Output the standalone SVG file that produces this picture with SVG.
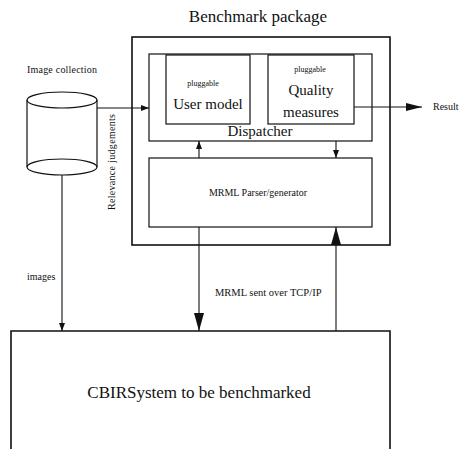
<svg xmlns="http://www.w3.org/2000/svg" width="460" height="449" viewBox="0 0 460 449">
<style>
.box{fill:none;stroke:#111;stroke-width:1.2}
.thick{fill:none;stroke:#111;stroke-width:1.6}
.ln{fill:none;stroke:#111;stroke-width:1.1}
text{font-family:"Liberation Serif","Times New Roman",serif;fill:#111}
.big{font-size:17px}
.mid{font-size:15px}
.sm{font-size:10px}
.xs{font-size:8px}
</style>
<defs>
<marker id="sa" markerUnits="userSpaceOnUse" markerWidth="8" markerHeight="6" refX="8" refY="3" orient="auto"><path d="M0,0 L8,3 L0,6 Z" fill="#111"/></marker>
<marker id="ba" markerUnits="userSpaceOnUse" markerWidth="18" markerHeight="10" refX="18" refY="5" orient="auto"><path d="M0,0 L18,5 L0,10 Z" fill="#111"/></marker>
<marker id="ra" markerUnits="userSpaceOnUse" markerWidth="16" markerHeight="8" refX="16" refY="4" orient="auto"><path d="M0,0 L16,4 L0,8 Z" fill="#111"/></marker>
</defs>
<text class="big" x="258" y="22" text-anchor="middle">Benchmark package</text>
<g id="package"><rect class="thick" x="132" y="37" width="258" height="208"/></g>
<g id="dispatcher"><rect class="box" x="149" y="54" width="223" height="87"/><text class="mid" x="260" y="136" text-anchor="middle">Dispatcher</text></g>
<g id="usermodel"><rect class="box" x="166" y="55" width="84" height="69"/><text class="xs" x="203" y="86" text-anchor="middle">pluggable</text><text class="mid" x="208" y="109" text-anchor="middle">User model</text></g>
<g id="quality"><rect class="box" x="268" y="55" width="86" height="69"/><text class="xs" x="310" y="72" text-anchor="middle">pluggable</text><text class="mid" x="311" y="95" text-anchor="middle">Quality</text><text class="mid" x="311" y="117" text-anchor="middle">measures</text></g>
<g id="mrml"><rect class="box" x="149" y="158" width="223" height="69"/><text class="sm" x="258" y="196" text-anchor="middle">MRML Parser/generator</text></g>
<g id="collection">
<text class="sm" x="27" y="73" textLength="70">Image collection</text>
<path class="box" d="M27,100 L27,167 A35,8 0 0 0 97,167 L97,100"/>
<ellipse class="box" cx="62" cy="100" rx="35" ry="8"/>
<path class="box" d="M27,167 A35,8 0 0 1 97,167"/>
</g>
<g id="cbir"><path class="thick" d="M11,449 L11,331 L390,331 L390,449"/><text class="big" x="199" y="398" text-anchor="middle">CBIRSystem to be benchmarked</text></g>
<text class="sm" x="433" y="110">Result</text>
<g id="connectors">
<line class="ln" x1="97" y1="108" x2="149" y2="108" marker-end="url(#sa)"/>
<text class="sm" transform="translate(115,210) rotate(-90)" textLength="96">Relevance judgements</text>
<line class="ln" x1="354" y1="107" x2="422" y2="107" marker-end="url(#ra)"/>
<line class="ln" x1="199" y1="158" x2="199" y2="141" marker-end="url(#sa)"/>
<line class="ln" x1="336" y1="141" x2="336" y2="158" marker-end="url(#sa)"/>
<line class="ln" x1="62" y1="175" x2="62" y2="331" marker-end="url(#sa)"/>
<text class="sm" x="27" y="280">images</text>
<line class="ln" x1="199" y1="227" x2="199" y2="331" marker-end="url(#ba)"/>
<line class="ln" x1="336" y1="331" x2="336" y2="227" marker-end="url(#ba)"/>
<text style="font-size:10.5px" x="215" y="296">MRML sent over TCP/IP</text>
</g>
</svg>
